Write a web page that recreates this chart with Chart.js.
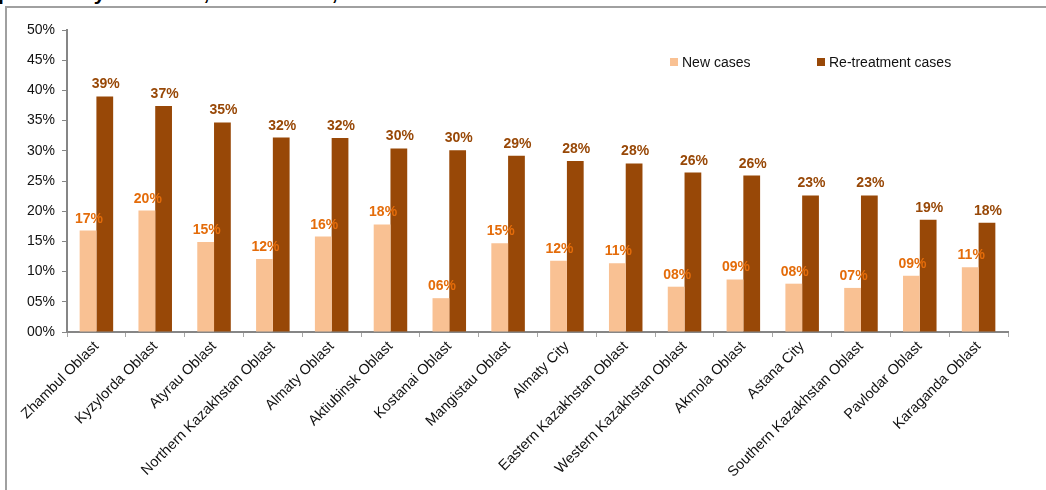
<!DOCTYPE html>
<html>
<head>
<meta charset="utf-8">
<script src="https://cdn.jsdelivr.net/npm/chart.js@4.4.1/dist/chart.umd.min.js"></script>
<style>
  html, body { margin: 0; padding: 0; background: #fff; }
  #wrap { position: relative; width: 1046px; height: 490px; overflow: hidden; }
  #frame { position: absolute; left: 5px; top: 6px; width: 1100px; height: 600px;
           border-left: 2px solid #a0a0a0; border-top: 2px solid #a0a0a0; }
  #title { position: absolute; left: -2px; top: -19px; white-space: nowrap;
           font: bold 21px "Liberation Sans", Arial, sans-serif; color: #000; }
  canvas { position: absolute; left: 0; top: 0; }
</style>
</head>
<body>
<div id="wrap">
  <div id="title">pulmonary TB cases, Kazakhstan, 2012</div>
  <div id="frame"></div>
  <canvas id="c" width="1046" height="490"></canvas>
</div>
<script>
const categories = [
  "Zhambul Oblast", "Kyzylorda Oblast", "Atyrau Oblast", "Northern Kazakhstan Oblast",
  "Almaty Oblast", "Aktiubinsk Oblast", "Kostanai Oblast", "Mangistau Oblast",
  "Almaty City", "Eastern Kazakhstan Oblast", "Western Kazakhstan Oblast", "Akmola Oblast",
  "Astana City", "Southern Kazakhstan Oblast", "Pavlodar Oblast", "Karaganda Oblast"
];
const newCases = [16.8, 20.1, 14.9, 12.1, 15.8, 17.8, 5.6, 14.7, 11.8, 11.4, 7.5, 8.7, 8.0, 7.3, 9.3, 10.7];
const retreatmentCases = [39.0, 37.4, 34.7, 32.2, 32.1, 30.4, 30.1, 29.2, 28.3, 27.9, 26.4, 25.9, 22.6, 22.6, 18.6, 18.1];
const yTicks = [0, 5, 10, 15, 20, 25, 30, 35, 40, 45, 50];
const seriesNames = ["New cases", "Re-treatment cases"];

const FONT = '"Liberation Sans", Arial, sans-serif';
const pct = v => String(Math.round(v)).padStart(2, "0") + "%";

const labelPlugin = {
  id: "barLabels",
  afterDatasetsDraw(chart) {
    const ctx = chart.ctx;
    ctx.save();
    ctx.font = "bold 14px " + FONT;
    ctx.textAlign = "center";
    ctx.textBaseline = "alphabetic";
    chart.data.datasets.forEach((ds, i) => {
      const meta = chart.getDatasetMeta(i);
      ctx.fillStyle = ds.labelColor;
      meta.data.forEach((el, j) => {
        ctx.fillText(pct(ds.data[j]), el.x + 1, el.y - 8);
      });
    });
    ctx.restore();
  }
};

const legendPlugin = {
  id: "customLegend",
  afterDraw(chart) {
    const ctx = chart.ctx;
    const area = chart.chartArea;
    const positions = [area.left + 603, area.left + 750];
    const y = area.top + 32;
    ctx.save();
    ctx.font = "14px " + FONT;
    ctx.textBaseline = "middle";
    ctx.textAlign = "left";
    chart.data.datasets.forEach((ds, i) => {
      const x = positions[i];
      ctx.fillStyle = ds.backgroundColor;
      ctx.fillRect(x, y - 4, 8, 8);
      ctx.fillStyle = "#111";
      ctx.fillText(ds.label, x + 12, y + 1);
    });
    ctx.restore();
  }
};

new Chart(document.getElementById("c"), {
  type: "bar",
  data: {
    labels: categories,
    datasets: [
      { label: seriesNames[0], data: newCases, backgroundColor: "#F9C193", labelColor: "#E46C0A",
        categoryPercentage: 0.57, barPercentage: 1.0, borderWidth: 0 },
      { label: seriesNames[1], data: retreatmentCases, backgroundColor: "#984807", labelColor: "#984807",
        categoryPercentage: 0.57, barPercentage: 1.0, borderWidth: 0 }
    ]
  },
  options: {
    responsive: false,
    animation: false,
    layout: { padding: { left: 5, right: 38, top: 30, bottom: 0 } },
    plugins: { legend: { display: false }, tooltip: { enabled: false } },
    scales: {
      x: {
        afterFit: s => { s.height = 158; },
        grid: { display: true, drawOnChartArea: false, offset: true, tickLength: 5, color: "#a6a6a6", lineWidth: 1 },
        border: { display: true, color: "#868686", width: 2 },
        ticks: { minRotation: 45, maxRotation: 45, autoSkip: false, color: "#111",
                 font: { family: FONT, size: 14.5 }, padding: 1 }
      },
      y: {
        min: 0, max: 50,
        afterFit: s => { s.width = 62; },
        afterBuildTicks: s => { s.ticks = yTicks.map(v => ({ value: v })); },
        grid: { display: true, drawOnChartArea: false, tickLength: 5, color: "#868686", lineWidth: 1 },
        border: { display: true, color: "#868686", width: 2 },
        ticks: { color: "#111", font: { family: FONT, size: 14 }, padding: 7,
                 callback: v => String(v).padStart(2, "0") + "%" }
      }
    }
  },
  plugins: [labelPlugin, legendPlugin]
});
</script>
</body>
</html>
